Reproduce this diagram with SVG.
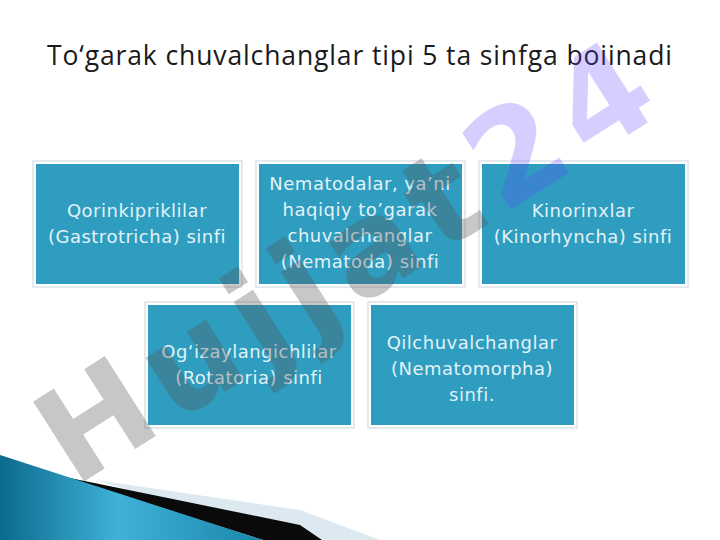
<svg xmlns="http://www.w3.org/2000/svg" width="720" height="540" viewBox="0 0 720 540">
<defs>
<style>
.frame{fill:#ffffff;stroke:#c9d4da;stroke-width:1}
.box{fill:#2e9dbf}
.lbl{font-family:"DejaVu Sans",Verdana,sans-serif;font-size:18px;fill:#e2f2f8;text-anchor:middle;letter-spacing:0.5px}
.title{font-family:"Open Sans","Noto Sans",sans-serif;font-size:26.5px;fill:#1a1a1a}
.wm{font-family:"DejaVu Sans",sans-serif;font-weight:bold;font-size:130px}
</style>
<linearGradient id="blueg" x1="0" y1="0" x2="1" y2="0">
<stop offset="0" stop-color="#0b6a8e"/>
<stop offset="0.45" stop-color="#3fb2d8"/>
<stop offset="1" stop-color="#1b86ab"/>
</linearGradient>
</defs>
<rect width="720" height="540" fill="#ffffff"/>

<g id="decor">
<polygon points="95,480 300,510 380,540 300,540" fill="#dde9f0"/>
<polygon points="60,476 300,525 322,540 263,540" fill="#0a0a0a"/>
<polygon points="0,455 263,540 0,540" fill="url(#blueg)"/>
</g>

<text id="title" class="title" x="47" y="65" textLength="625" lengthAdjust="spacing">To‘garak chuvalchanglar tipi 5 ta sinfga boiinadi</text>

<g id="connectors"></g>

<g id="n1">
<rect class="frame" x="33" y="161" width="209" height="126"/>
<rect class="box" x="36" y="164" width="203" height="120"/>
<text class="lbl" x="137" y="217">Qorinkipriklilar</text>
<text class="lbl" x="137" y="243">(Gastrotricha) sinfi</text>
</g>

<g id="n2">
<rect class="frame" x="256" y="161" width="209" height="126"/>
<rect class="box" x="259" y="164" width="203" height="120"/>
<text class="lbl" x="360" y="190">Nematodalar, ya’ni</text>
<text class="lbl" x="360" y="216">haqiqiy to’garak</text>
<text class="lbl" x="360" y="242">chuvalchanglar</text>
<text class="lbl" x="360" y="268">(Nematoda) sinfi</text>
</g>

<g id="n3">
<rect class="frame" x="479" y="161" width="209" height="126"/>
<rect class="box" x="482" y="164" width="203" height="120"/>
<text class="lbl" x="583" y="217">Kinorinxlar</text>
<text class="lbl" x="583" y="243">(Kinorhyncha) sinfi</text>
</g>

<g id="n4">
<rect class="frame" x="145" y="302" width="209" height="126"/>
<rect class="box" x="148" y="305" width="203" height="120"/>
<text class="lbl" x="249" y="358">Og‘izaylangichlilar</text>
<text class="lbl" x="249" y="384">(Rotatoria) sinfi</text>
</g>

<g id="n5">
<rect class="frame" x="368" y="302" width="209" height="126"/>
<rect class="box" x="371" y="305" width="203" height="120"/>
<text class="lbl" x="472" y="349">Qilchuvalchanglar</text>
<text class="lbl" x="472" y="375">(Nematomorpha)</text>
<text class="lbl" x="472" y="401">sinfi.</text>
</g>

<g id="watermark" transform="translate(345,262) rotate(-32.5)">
<text class="wm" x="0" y="45" text-anchor="middle" textLength="700" lengthAdjust="spacing"><tspan fill="#555555" fill-opacity="0.33">Hujjat</tspan><tspan fill="#6040ff" fill-opacity="0.26">24</tspan></text>
</g>
</svg>
